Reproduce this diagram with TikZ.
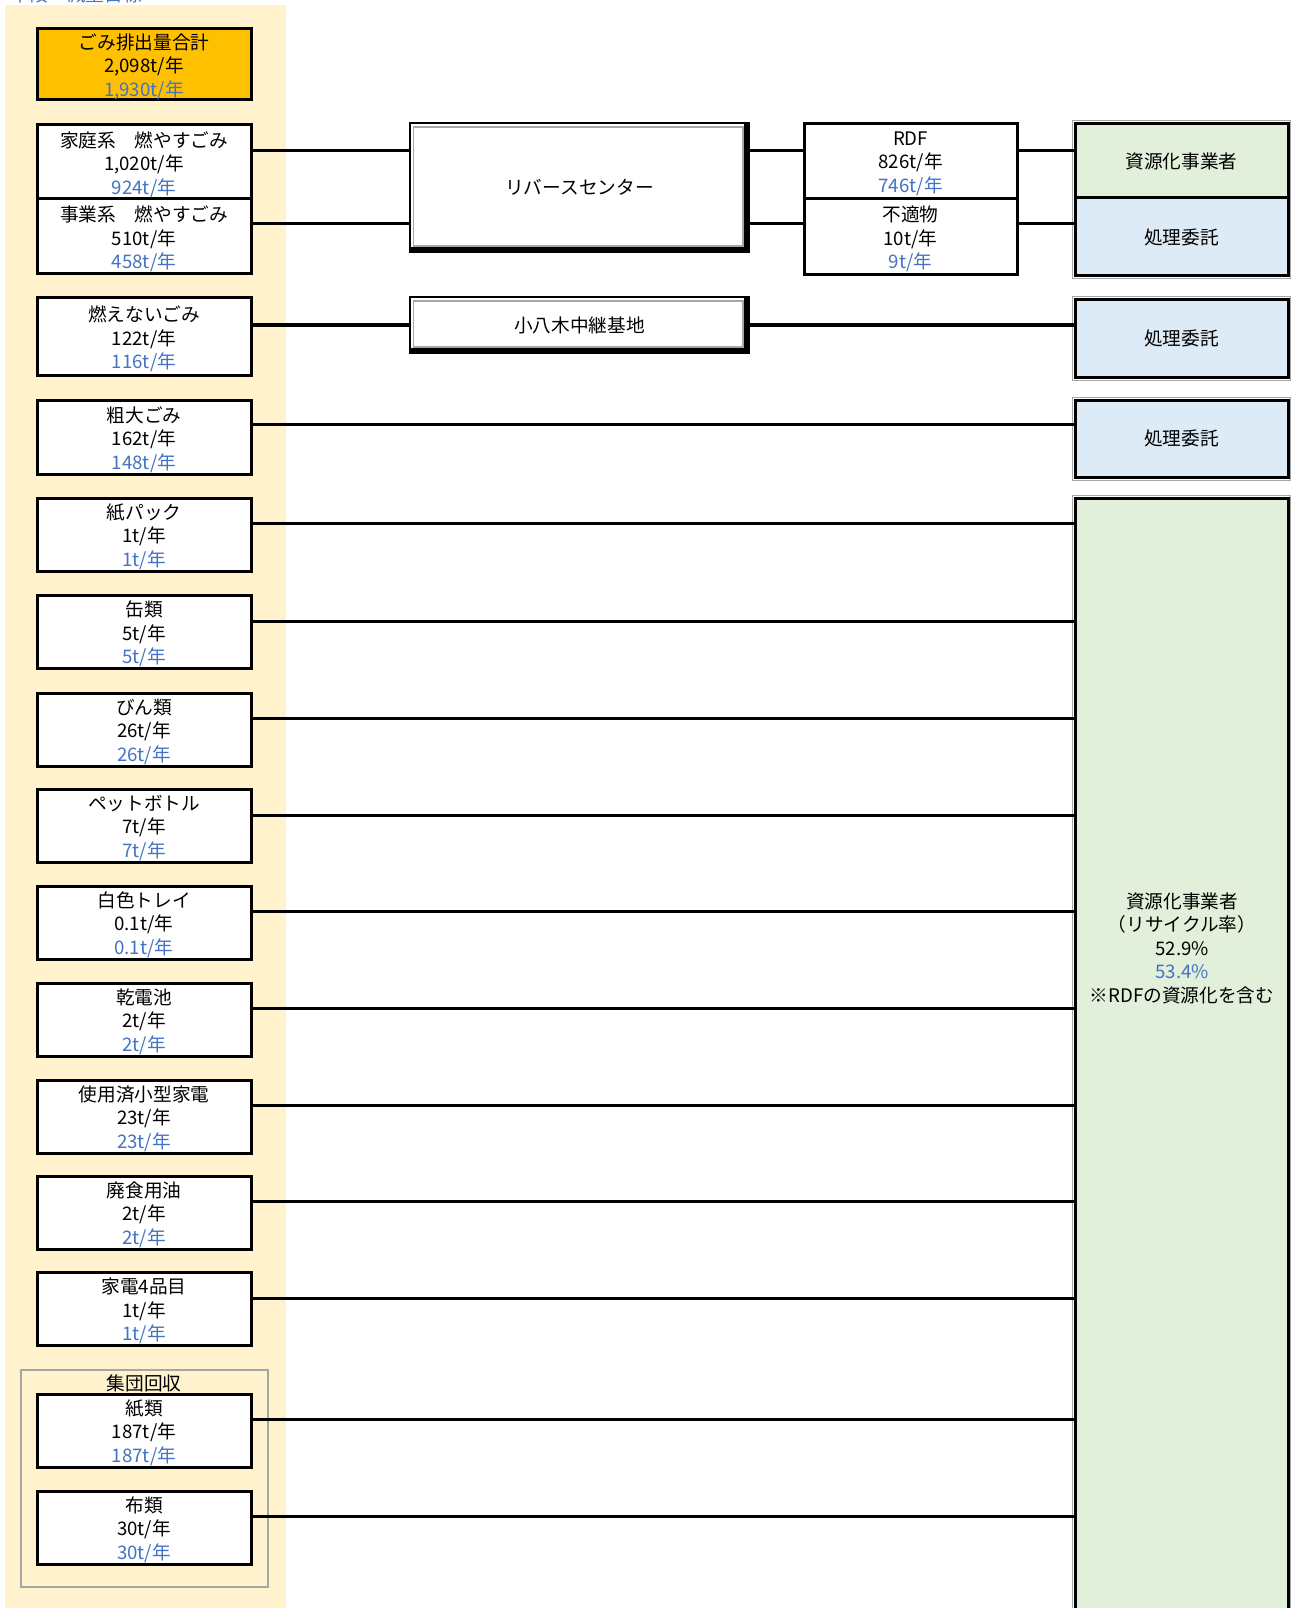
\documentclass[tikz,border=0pt]{standalone}
\usepackage{fontspec}
\setmainfont{Noto Sans CJK JP}
\usetikzlibrary{calc}
\definecolor{cream}{HTML}{FFF2CC}
\definecolor{orangef}{HTML}{FFC000}
\definecolor{greenf}{HTML}{E2EFDA}
\definecolor{bluef}{HTML}{DDEBF7}
\definecolor{tblue}{HTML}{4472C4}
\definecolor{greyline}{HTML}{A6A6A6}
\newcommand\bx[6]{\node[#6, anchor=north west, minimum width={(#4-#2)*0.75pt}, minimum height={(#5-#3)*0.75pt}] (#1) at (#2,#3) {};}
\newcommand\trip[3]{#1\\#2\\\textcolor{tblue}{#3}}
\newcommand\dframe[1]{%
  \draw[line width=3.4pt] ([shift={(-2.5,0)}]#1.north east) -- ([shift={(-2.5,-2.5)}]#1.south east) -- ([shift={(0,-2.5)}]#1.south west);
  \draw[greyline, line width=0.8pt] ([shift={(3.5,4)}]#1.north west) rectangle ([shift={(-6,-6)}]#1.south east);}
\begin{document}
\begin{tikzpicture}[x=0.75pt, y=-0.75pt,
  font=\fontsize{14pt}{17.6pt}\selectfont,
  lbox/.style={draw=black, line width=2.25pt, fill=white, inner sep=0, outer sep=0},
  obox/.style={lbox, fill=orangef},
  rbox/.style={draw=black, line width=2.25pt, inner sep=0, outer sep=0},
  dbox/.style={draw=black, line width=1.5pt, fill=white, inner sep=0, outer sep=0},
  conn/.style={line width=2.25pt},
  txt/.style={align=center, inner sep=0, outer sep=0}]
\useasboundingbox (0,0) rectangle (1290,1608);
\fill[white] (0,0) rectangle (1290,1608);
% cream background
\fill[cream] (5,5) rectangle (286,1620);
% header (cut at the top edge as in the reference)
\node[anchor=base west, inner sep=0, text=tblue] (hdr) at (11,2) {下段：減量目標};

% total
\bx{tot}{37}{29}{251}{100}{obox}
\node[txt] (tott) at ([yshift=-1.5pt]tot.center) {\trip{ごみ排出量合計}{2,098t/年}{1,930t/年}};

% household / business
\bx{hh}{37}{125}{251}{199}{lbox}
\bx{bz}{37}{199}{251}{274}{lbox}
\node[txt] (hht) at ([yshift=-2pt]hh.center) {\trip{家庭系　燃やすごみ}{1,020t/年}{924t/年}};
\node[txt] (bzt) at ([yshift=-2pt]bz.center) {\trip{事業系　燃やすごみ}{510t/年}{458t/年}};

% reverse center
\bx{rc}{410}{123}{749}{252}{dbox}
\dframe{rc}
\node[txt] (rct) at (rc.center) {リバースセンター};

% RDF / unsuitable
\bx{rdf}{804}{124}{1017}{199}{lbox}
\bx{unf}{804}{199}{1017}{275}{lbox}
\node[txt] (rdft) at ([yshift=-1.5pt]rdf.center) {\trip{RDF}{826t/年}{746t/年}};
\node[txt] (unft) at ([yshift=-1.5pt]unf.center) {\trip{不適物}{10t/年}{9t/年}};

% right boxes
\draw[greyline, line width=0.75pt] (1072,121) rectangle (1290,279);
\bx{g1}{1075}{124}{1288}{198}{rbox, fill=greenf}
\bx{b1}{1075}{198}{1288}{276}{rbox, fill=bluef}
\node[txt] (g1t) at (g1.center) {資源化事業者};
\node[txt] (b1t) at (b1.center) {処理委託};

% connectors row 1/2
\draw[conn] (hh.east |- 0,151) -- (rc.west |- 0,151);
\draw[conn] (bz.east |- 0,224) -- (rc.west |- 0,224);
\draw[conn] (rc.east |- 0,151) -- (rdf.west |- 0,151);
\draw[conn] (rc.east |- 0,224) -- (unf.west |- 0,224);
\draw[conn] (rdf.east |- 0,151) -- (g1.west |- 0,151);
\draw[conn] (unf.east |- 0,224) -- (b1.west |- 0,224);

% non-burnable
\bx{nb}{37}{298}{251}{375}{lbox}
\node[txt] (nbt) at ([yshift=-2pt]nb.center) {\trip{燃えないごみ}{122t/年}{116t/年}};
\bx{ko}{410}{297}{749}{353}{dbox}
\dframe{ko}
\node[txt] (kot) at (ko.center) {小八木中継基地};
\draw[greyline, line width=0.75pt] (1072,297) rectangle (1290,380);
\bx{b2}{1075}{300}{1288}{377}{rbox, fill=bluef}
\node[txt] (b2t) at (b2.center) {処理委託};
\draw[conn] (nb.east |- 0,325) -- (ko.west |- 0,325);
\draw[conn] (ko.east |- 0,325) -- (b2.west |- 0,325);

% bulky
\bx{bk}{37}{400}{251}{474}{lbox}
\node[txt] (bkt) at ([yshift=-2pt]bk.center) {\trip{粗大ごみ}{162t/年}{148t/年}};
\draw[greyline, line width=0.75pt] (1072,397) rectangle (1290,480);
\bx{b3}{1075}{400}{1288}{477}{rbox, fill=bluef}
\node[txt] (b3t) at (b3.center) {処理委託};
\draw[conn] (bk.east |- 0,424) -- (b3.west |- 0,424);

% big recycling box
\draw[greyline, line width=0.75pt] (1072,495) rectangle (1290,1620);
\bx{bg}{1075}{498}{1288}{1620}{rbox, fill=greenf}
\node[txt] (bgt) at (1182,948) {資源化事業者\\（リサイクル率）\\52.9\%\\\textcolor{tblue}{53.4\%}\\※RDFの資源化を含む};

% group collection frame
\draw[greyline, line width=1.3pt] (21,1370) rectangle (268,1587);
\node[txt] (grp) at (144,1383) {集団回収};

% items
\foreach \i/\top/\nm/\va/\vb in {
  1/498/紙パック/1t/1t,
  2/595.5/缶類/5t/5t,
  3/693/びん類/26t/26t,
  4/789.5/ペットボトル/7t/7t,
  5/886/白色トレイ/0.1t/0.1t,
  6/983/乾電池/2t/2t,
  7/1080/使用済小型家電/23t/23t,
  8/1176/廃食用油/2t/2t,
  9/1272.5/家電4品目/1t/1t,
  10/1394/紙類/187t/187t,
  11/1491/布類/30t/30t}{
  \pgfmathsetmacro\bot{\top+73}
  \pgfmathsetmacro\ly{\top+25.6}
  \bx{it\i}{37}{\top}{251}{\bot}{lbox}
  \node[txt] (itt\i) at ([yshift=-1.5pt]it\i.center) {\trip{\nm}{\va/年}{\vb/年}};
  \draw[conn] (it\i.east |- 0,\ly) -- (bg.west |- 0,\ly);
}
\end{tikzpicture}
\end{document}
